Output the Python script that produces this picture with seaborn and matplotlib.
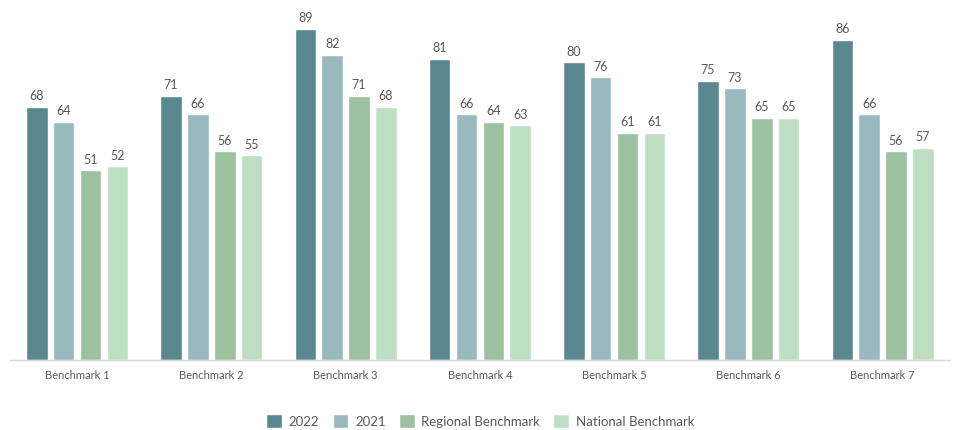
import matplotlib
matplotlib.use("Agg")
import matplotlib.pyplot as plt
import seaborn as sns
import pandas as pd

categories = ["Benchmark 1", "Benchmark 2", "Benchmark 3", "Benchmark 4",
              "Benchmark 5", "Benchmark 6", "Benchmark 7"]
series_names = ["2022", "2021", "Regional Benchmark", "National Benchmark"]
v2022 = [68, 71, 89, 81, 80, 75, 86]
v2021 = [64, 66, 82, 66, 76, 73, 66]
regional = [51, 56, 71, 64, 61, 65, 56]
national = [52, 55, 68, 63, 61, 65, 57]
colors = ["#5b8790", "#9ab9be", "#9cc0a0", "#bfdfc4"]

rows = []
for name, vals in zip(series_names, [v2022, v2021, regional, national]):
    for c, v in zip(categories, vals):
        rows.append({"Benchmark": c, "Series": name, "Value": v})
df = pd.DataFrame(rows)

sns.set_theme(style="white")
plt.rcParams["font.family"] = ["Lato", "DejaVu Sans"]
text_color = "#595959"

fig = plt.figure(figsize=(9.55, 4.31), dpi=100)
ax = fig.add_axes([0.0105, 0.163, 0.984, 0.837])
sns.barplot(data=df, x="Benchmark", y="Value", hue="Series", order=categories,
            hue_order=series_names, palette=colors, width=0.8, gap=0.2,
            saturation=1, ax=ax, legend=True)

for cont in ax.containers:
    ax.bar_label(cont, fmt="%d", padding=4, fontsize=9, color=text_color)

ax.set_ylim(0, 97)
ax.set_xlim(-0.5, 6.5)
ax.set_xlabel("")
ax.set_ylabel("")
ax.set_yticks([])
ax.tick_params(axis="x", length=0, labelsize=8, labelcolor=text_color, pad=7)
for s in ["top", "right", "left"]:
    ax.spines[s].set_visible(False)
ax.spines["bottom"].set_color("#d9d9d9")
ax.spines["bottom"].set_linewidth(1)

handles, labels = ax.get_legend_handles_labels()
ax.get_legend().remove()
fig.legend(handles, labels, loc="center", bbox_to_anchor=(0.503, 0.021),
           ncol=4, frameon=False, fontsize=9.5, labelcolor=text_color,
           handlelength=1.2, handleheight=1.2, handletextpad=0.5,
           columnspacing=1.0)

fig.savefig("out.png", dpi=100)
